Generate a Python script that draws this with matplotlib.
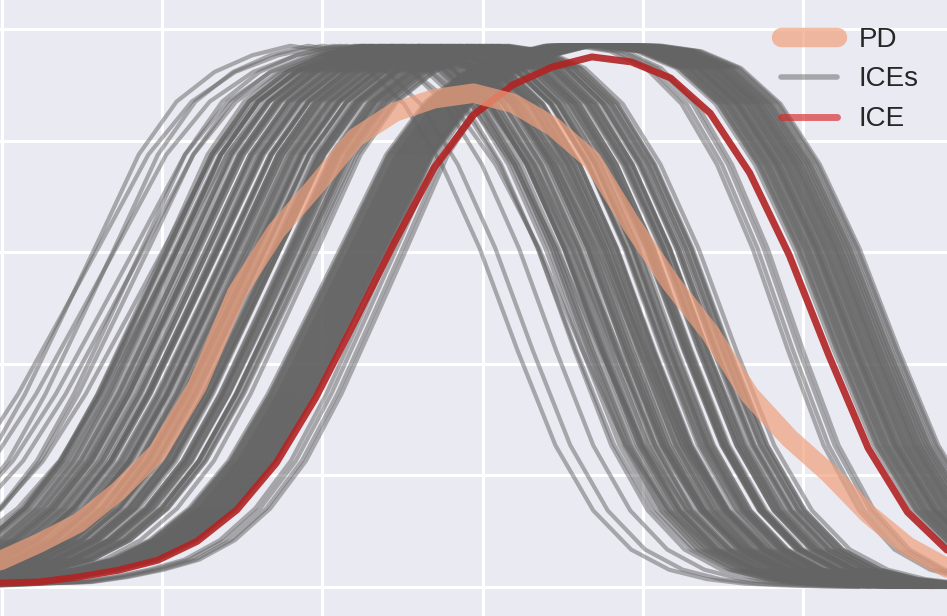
import numpy as np
import matplotlib
matplotlib.use("Agg")
import matplotlib.pyplot as plt
import seaborn as sns
from matplotlib.lines import Line2D

# feature grid used for the PD / highlighted ICE curves
x_grid = np.linspace(-0.0106, 5.897, 25)

# partial dependence (average) curve
pd_curve = [0.047, 0.079, 0.115, 0.172, 0.242, 0.360, 0.527, 0.638, 0.719, 0.805,
            0.851, 0.875, 0.885, 0.867, 0.826, 0.765, 0.650, 0.545, 0.455, 0.344,
            0.267, 0.204, 0.131, 0.073, 0.034]

# the single highlighted ICE curve
ice_curve = [0.007, 0.009, 0.018, 0.030, 0.048, 0.082, 0.138, 0.222, 0.339, 0.477,
             0.618, 0.751, 0.846, 0.900, 0.932, 0.950, 0.941, 0.912, 0.849, 0.742,
             0.595, 0.416, 0.249, 0.134, 0.066]

# common profile of the background ICE curves, in grid steps from the peak
shape_steps = np.arange(-18, 16)
ice_shape = [0.001, 0.002, 0.004, 0.007, 0.009, 0.018, 0.031, 0.049, 0.084, 0.141,
             0.226, 0.346, 0.487, 0.630, 0.775, 0.870, 0.923, 0.953, 0.970, 0.960,
             0.930, 0.866, 0.757, 0.607, 0.424, 0.254, 0.137, 0.067, 0.031, 0.014,
             0.006, 0.003, 0.001, 0.000]

# left group of ICE curves: peak position and width factor
left_peaks = [1.998, 2.110, 2.216, 2.260, 2.385, 2.447, 2.235, 2.254, 2.285, 2.304,
              2.322, 2.354, 2.366, 2.397, 2.422, 2.435, 2.466, 2.485, 2.510, 2.516,
              2.547, 2.566, 2.591, 2.603, 2.628, 2.647, 2.659, 2.690, 2.703, 2.734,
              2.747, 2.772, 2.790, 2.809, 2.828, 2.853, 2.865, 2.896, 2.909, 2.928,
              2.946, 2.971, 2.984, 3.009, 3.027, 3.052, 3.065, 3.090, 3.109, 3.140,
              3.165,
              1.800, 1.910, 2.070, 2.150, 2.200, 2.245, 2.270, 2.295, 2.315, 2.340,
              2.360, 2.380, 2.410, 2.430, 2.450, 2.475, 2.495, 2.530, 2.555, 2.575,
              2.610, 2.620, 2.640, 2.670, 2.680, 2.710, 2.725, 2.740, 2.760, 2.780,
              2.800, 2.820, 2.840, 2.860, 2.880, 2.900, 2.920, 2.935, 2.955, 2.980,
              3.000, 3.020, 3.040, 3.060, 3.080, 3.100, 3.120, 3.155, 2.500, 2.600]
left_widths = [1.10, 1.10, 1.09, 1.08, 1.08, 1.06, 0.94, 0.96, 0.93, 0.95,
               0.97, 0.94, 0.95, 0.93, 0.96, 0.94, 0.97, 0.95, 0.93, 0.96,
               0.94, 0.95, 0.97, 0.93, 0.96, 0.94, 0.95, 0.93, 0.97, 0.94,
               0.96, 0.95, 0.93, 0.94, 0.97, 0.95, 0.96, 0.93, 0.94, 0.96,
               0.95, 0.97, 0.93, 0.94, 0.96, 0.95, 0.93, 0.97, 0.94, 0.95,
               0.96,
               0.96, 0.95, 0.94, 0.97, 0.93, 0.95, 0.96, 0.94, 0.97, 0.95,
               0.93, 0.96, 0.94, 0.95, 0.97, 0.93, 0.96, 0.94, 0.95, 0.97,
               0.94, 0.96, 0.93, 0.95, 0.94, 0.97, 0.95, 0.93, 0.96, 0.94,
               0.95, 0.97, 0.93, 0.96, 0.94, 0.95, 0.93, 0.97, 0.96, 0.94,
               0.95, 0.93, 0.96, 0.97, 0.94, 0.95, 0.96, 0.93, 0.95, 0.94]

# right group: start and end of the flat top
right_starts = [3.383, 3.402, 3.415, 3.433, 3.446, 3.458, 3.477, 3.490, 3.502, 3.515,
                3.527, 3.539, 3.552, 3.564, 3.577, 3.589, 3.602, 3.614, 3.627, 3.639,
                3.652, 3.664, 3.465, 3.546, 3.608, 3.508,
                3.396, 3.427, 3.452, 3.471, 3.496, 3.521, 3.533, 3.558, 3.583, 3.596,
                3.621, 3.633, 3.646, 3.658, 3.671, 3.440, 3.571, 3.408, 3.483, 3.677]
right_ends = [3.808, 3.964, 3.733, 3.889, 4.007, 3.777, 3.933, 3.851, 3.745, 3.983,
              3.820, 3.908, 3.714, 3.870, 4.026, 3.795, 3.945, 3.758, 3.839, 3.920,
              3.995, 3.770, 3.858, 3.901, 3.976, 3.802,
              4.057, 3.833, 4.095, 3.883, 3.958, 4.045, 3.783, 4.120, 3.914, 4.076,
              3.864, 4.020, 3.739, 3.970, 4.064, 3.939, 4.107, 4.001, 3.845, 4.039]
# a few narrower curves of the right group
narrow_peaks = [3.576, 3.607, 3.645, 3.670]
narrow_width = 0.9

sns.set_style("darkgrid")
plt.rcParams['font.family'] = ['Liberation Sans', 'DejaVu Sans']

fig = plt.figure(figsize=(9.47, 6.16), dpi=100)
ax = fig.add_axes([0, 0, 1, 1])

step = x_grid[1] - x_grid[0]
shape = np.array(ice_shape)
neg = shape_steps <= 0
pos = shape_steps >= 0
gray_kw = dict(color='#646464', alpha=0.5, lw=3, zorder=2)


def draw_ice(start, end, width):
    xs = np.concatenate([start + width * shape_steps[neg] * step,
                         end + width * shape_steps[pos] * step])
    ys = np.concatenate([shape[neg], shape[pos]])
    ax.plot(xs, ys, **gray_kw)


for p, w in zip(left_peaks, left_widths):
    draw_ice(p, p, w)
for s, e in zip(right_starts, right_ends):
    draw_ice(s, e, 1.0)
for p in narrow_peaks:
    draw_ice(p, p, narrow_width)

ax.plot(x_grid, ice_curve, color='#b22222', alpha=0.9, lw=5, zorder=3)
ax.plot(x_grid, pd_curve, color='#f0a07c', alpha=0.7, lw=14,
        solid_capstyle='round', zorder=4)

ax.set_xlim(x_grid[0], x_grid[-1])
ax.set_ylim(-0.052, 1.052)
ax.set_xticks(range(0, 6))
ax.set_yticks([0, 0.2, 0.4, 0.6, 0.8, 1.0])
ax.tick_params(length=0, labelbottom=False, labelleft=False)
ax.grid(color='white', linewidth=2.2)
for sp in ax.spines.values():
    sp.set_visible(False)

handles = [
    Line2D([0], [0], color='#f0a07c', alpha=0.7, lw=14, solid_capstyle='round', label='PD'),
    Line2D([0], [0], color='#646464', alpha=0.5, lw=4, label='ICEs'),
    Line2D([0], [0], color='#d62728', alpha=0.65, lw=5, label='ICE'),
]
ax.legend(handles=handles, loc='upper right', bbox_to_anchor=(0.982, 0.975),
          borderaxespad=0, frameon=False, fontsize=20, handlelength=2.0,
          handletextpad=0.8, labelspacing=0.5)

fig.savefig('out.png', dpi=100)
